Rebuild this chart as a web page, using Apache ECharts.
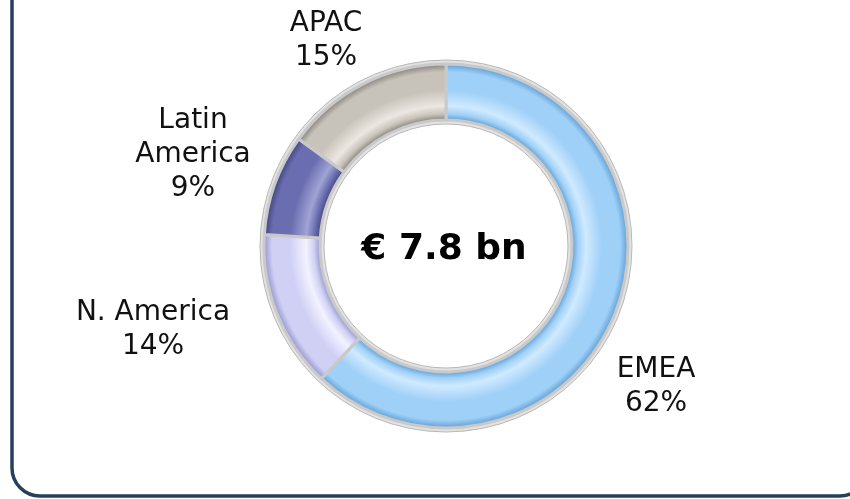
<!DOCTYPE html>
<html>
<head>
<meta charset="utf-8">
<script src="https://cdn.jsdelivr.net/npm/echarts@6/dist/echarts.min.js"></script>
<style>
  html, body { margin: 0; padding: 0; background: #fff; }
  #main { width: 850px; height: 499px; }
</style>
</head>
<body>
<div id="main"></div>
<script>
// region shares of revenue (%)
const regions = ["EMEA", "N. America", "Latin America", "APAC"];
const shares = [62, 14, 9, 15];
const totalLabel = "€ 7.8 bn";

// tube colours per region: [dark edge, highlight, base]
const tones = [
  ["#5f9fd6", "#d0eaff", "#9fd0f7"],
  ["#9696cf", "#f2f2ff", "#d0d0f5"],
  ["#42457c", "#a0a3d4", "#6a6eb0"],
  ["#88837b", "#ebe8e2", "#c8c3ba"]
];

// where each label block sits (centre x, top y)
const labelSpots = [
  { x: 656, y: 353 },
  { x: 153, y: 296 },
  { x: 193, y: 104 },
  { x: 326, y: 7 }
];

const cx = 446, cy = 246, rIn = 126, rOut = 182;

function tube(t) {
  const f = (r) => r / rOut;
  return {
    type: "radial", x: cx, y: cy, r: rOut, global: true,
    colorStops: [
      { offset: f(rIn), color: t[0] },
      { offset: f(rIn + 6), color: t[2] },
      { offset: f(rIn + 14), color: t[1] },
      { offset: f(rIn + 30), color: t[2] },
      { offset: f(rOut - 8), color: t[2] },
      { offset: f(rOut), color: t[0] }
    ]
  };
}

var myChart = echarts.init(document.getElementById("main"));
var option = {
  animation: false,
  graphic: [
    {
      type: "rect",
      shape: { x: 12, y: -40, width: 856, height: 536, r: 28 },
      style: { fill: "none", stroke: "#263f5a", lineWidth: 3.5 },
      z: 0
    },
    {
      type: "text",
      x: cx - 2, y: cy + 4,
      style: {
        text: totalLabel,
        font: "bold 36px 'DejaVu Sans'",
        fill: "#000",
        textAlign: "center",
        textVerticalAlign: "middle"
      },
      z: 10
    }
  ],
  series: [
    {
      // grey bed under the segments
      type: "pie",
      silent: true,
      center: [cx, cy],
      radius: [rIn - 4, rOut + 4],
      label: { show: false },
      data: [{ value: 1, itemStyle: { color: "#e2e2e2", borderColor: "#b8b8b8", borderWidth: 1 } }],
      z: 1
    },
    {
      type: "pie",
      center: [cx, cy],
      radius: [rIn, rOut],
      startAngle: 90,
      clockwise: true,
      avoidLabelOverlap: false,
      itemStyle: { borderColor: "#c9c9c9", borderWidth: 3 },
      label: {
        show: true,
        color: "#111",
        fontFamily: "DejaVu Sans",
        fontSize: 28,
        lineHeight: 34,
        align: "center",
        formatter: function (p) {
          var n = p.name === "Latin America" ? "Latin\nAmerica" : p.name;
          return n + "\n" + p.value + "%";
        }
      },
      labelLine: { show: false },
      labelLayout: function (p) {
        var s = labelSpots[p.dataIndex];
        return { x: s.x, y: s.y, align: "center", verticalAlign: "top" };
      },
      data: regions.map(function (name, i) {
        return { name: name, value: shares[i], itemStyle: { color: tube(tones[i]) } };
      }),
      z: 2
    }
  ]
};
option && myChart.setOption(option);
</script>
</body>
</html>
